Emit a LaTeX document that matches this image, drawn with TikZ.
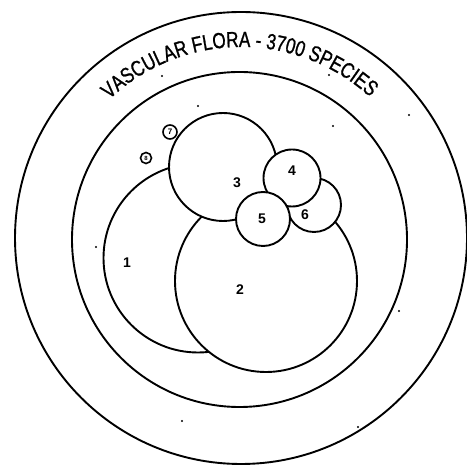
\documentclass[tikz,border=0pt]{standalone}
\usepackage{fontspec}
\setmainfont{Liberation Sans}
\newfontfamily\ttlfont[FakeStretch=0.78,FakeBold=1.0]{Liberation Sans}
\usetikzlibrary{decorations.text}
\begin{document}
\begin{tikzpicture}[x=1pt,y=1pt,
  ring/.style={draw, circle, line width=1.9pt, inner sep=0pt, fill=white},
  num/.style={font=\fontsize{14}{14}\selectfont\bfseries, inner sep=0pt},
  speck/.style={fill=black, circle, inner sep=0pt, minimum size=2.4pt}]
\useasboundingbox (0,0) rectangle (466,468);
\fill[white] (0,0) rectangle (466,468);
\coordinate (ctr) at (241,230);
% outer and inner rings
\node[ring, minimum size=452pt] (outer) at (ctr) {};
\node[ring, minimum size=335pt] (inner) at (239.5,228.5) {};
% title along the arc
\path[decorate, decoration={text along path, text align=center,
   text={|\ttlfont\fontsize{22}{22}\selectfont|VASCULAR FLORA - 3700 SPECIES}}]
   ([shift={(136:191pt)}]ctr) arc[start angle=136, end angle=45, radius=191pt];
% overlapping circles (bottom to top)
\node[ring, minimum size=189pt] (c1) at (198,210) {};
\node[ring, minimum size=182pt] (c2) at (266,187) {};
\node[ring, minimum size=108pt] (c3) at (223,301) {};
\node[ring, minimum size=54pt] (c6) at (314,263) {};
\node[ring, minimum size=57pt] (c4) at (292,290) {};
\node[ring, minimum size=54pt] (c5) at (263,249) {};
\node[ring, line width=1.6pt, minimum size=14pt] (c7) at (170,336) {};
\node[ring, line width=1.6pt, minimum size=11pt] (c8) at (146,310) {};
% labels
\node[num] (l1) at (127,205) {1};
\node[num] (l2) at (240,178) {2};
\node[num] (l3) at (237,285) {3};
\node[num] (l4) at (292,297) {4};
\node[num] (l5) at (262,249) {5};
\node[num] (l6) at (305,253) {6};
\node[num, font=\fontsize{8}{8}\selectfont\bfseries] (l7) at (c7) {7};
\node[num, font=\fontsize{6}{6}\selectfont\bfseries] (l8) at (c8) {8};
% specks
\node[speck] (s1) at (198,362) {};
\node[speck] (s2) at (333,342) {};
\node[speck] (s3) at (409,353) {};
\node[speck] (s4) at (96,221) {};
\node[speck] (s5) at (399,157) {};
\node[speck] (s6) at (182,47) {};
\node[speck] (s7) at (358,41) {};
\node[speck] (s8) at (162,392) {};
\node[speck] (s9) at (329,393) {};
\end{tikzpicture}
\end{document}
